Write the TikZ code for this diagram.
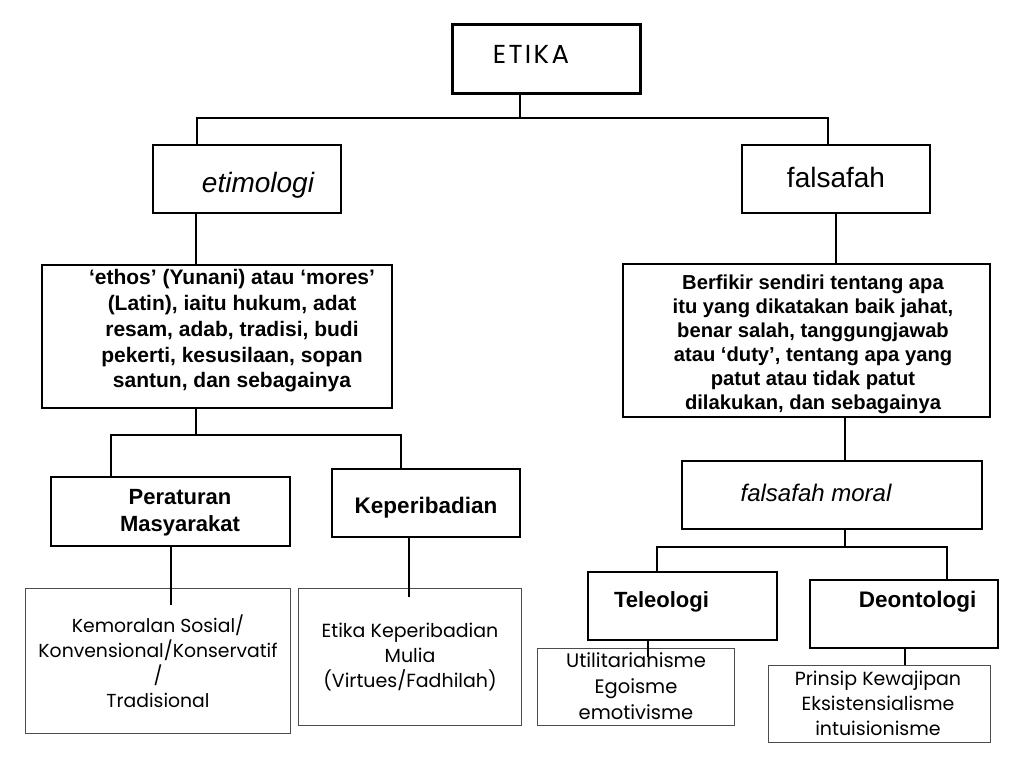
\documentclass[tikz,border=0pt]{standalone}
\usepackage{fontspec}
\setmainfont{Liberation Sans}
\newfontfamily\hand{Poppins}
\newfontfamily\handwide{Poppins}[LetterSpace=9]
\begin{document}
\begin{tikzpicture}[x=1pt,y=-1pt,
  box/.style={draw=black, line width=1.6pt, inner sep=0pt},
  thinbox/.style={draw=black!70, line width=0.9pt, inner sep=0pt},
  conn/.style={line width=1.8pt, line cap=rect},
  lbl/.style={inner sep=0pt, align=center}]
\useasboundingbox[fill=white] (0,0) rectangle (1024,768);

% boxes
\node[box, line width=3pt, minimum width=188pt, minimum height=68pt] (etika) at (546,59) {};
\node[box, minimum width=188pt, minimum height=68pt] (etim) at (247,179) {};
\node[box, minimum width=188pt, minimum height=68pt] (fals) at (836,179) {};
\node[box, minimum width=350pt, minimum height=143pt] (ltext) at (217,336.5) {};
\node[box, minimum width=367pt, minimum height=153pt] (rtext) at (806.5,340.5) {};
\node[box, minimum width=239pt, minimum height=69pt] (perat) at (170.5,511.5) {};
\node[box, minimum width=188pt, minimum height=68pt] (kep) at (426,503) {};
\node[box, minimum width=300pt, minimum height=68pt] (fmoral) at (832,495) {};
\node[box, minimum width=189pt, minimum height=68pt] (tele) at (682.5,606) {};
\node[box, minimum width=188pt, minimum height=68pt] (deon) at (904,614) {};
\node[thinbox, minimum width=265pt, minimum height=145pt] (kemo) at (157.5,660.5) {};
\node[thinbox, minimum width=223pt, minimum height=137pt] (etkep) at (409.5,656.5) {};
\node[thinbox, minimum width=197pt, minimum height=77pt] (util) at (635.5,686.5) {};
\node[thinbox, minimum width=222pt, minimum height=77pt] (prin) at (879,703.5) {};

% texts
\node[lbl, font=\handwide\fontsize{26}{30}\selectfont] (tEtika) at (531,54) {ETIKA};
\node[lbl, font=\itshape\fontsize{28}{32}\selectfont] (tEtim) at (258,185) {etimologi};
\node[lbl, font=\fontsize{28}{32}\selectfont] (tFals) at (836,177) {falsafah};
\node[lbl, font=\bfseries\fontsize{21}{25.75}\selectfont] (tL) at (232,331) {‘ethos’ (Yunani) atau ‘mores’\\(Latin), iaitu hukum, adat\\resam, adab, tradisi, budi\\pekerti, kesusilaan, sopan\\santun, dan sebagainya};
\node[lbl, font=\bfseries\fontsize{20.2}{24}\selectfont] (tR) at (813,344) {Berfikir sendiri tentang apa\\itu yang dikatakan baik jahat,\\benar salah, tanggungjawab\\atau ‘duty’, tentang apa yang\\patut atau tidak patut\\dilakukan, dan sebagainya};
\node[lbl, font=\bfseries\fontsize{22}{27}\selectfont] (tPerat) at (180,513) {Peraturan\\Masyarakat};
\node[lbl, font=\bfseries\fontsize{22.5}{27}\selectfont] (tKep) at (426,508) {Keperibadian};
\node[lbl, font=\itshape\fontsize{24}{28}\selectfont] (tFm) at (816,493) {falsafah moral};
\node[lbl, font=\bfseries\fontsize{22}{27}\selectfont] (tTele) at (661.5,602) {Teleologi};
\node[lbl, font=\bfseries\fontsize{22.5}{27}\selectfont] (tDeon) at (917.5,602) {Deontologi};
\node[lbl, font=\hand\fontsize{18.8}{25}\selectfont] (tKemo) at (158,661) {Kemoralan Sosial/\\Konvensional/Konservatif\\/\\Tradisional};
\node[lbl, font=\hand\fontsize{19}{25}\selectfont] (tEtkep) at (410,657) {Etika Keperibadian\\Mulia\\(Virtues/Fadhilah)};
\node[lbl, font=\hand\fontsize{19.5}{26}\selectfont] (tUtil) at (636,686) {Utilitarianisme\\Egoisme\\emotivisme};
\node[lbl, font=\hand\fontsize{19}{25}\selectfont] (tPrin) at (878,703) {Prinsip Kewajipan\\Eksistensialisme\\intuisionisme};

% connectors
\coordinate (j1) at (520,118);
\draw[conn] (etika.south -| j1) -- (j1);
\draw[conn] (etim.north -| 197,0) |- (j1) -| (fals.north -| 828,0);
\draw[conn] (etim.south -| 196,0) -- (ltext.north -| 196,0);
\coordinate (j2) at (196,435);
\draw[conn] (ltext.south -| j2) -- (j2);
\draw[conn] (perat.north -| 111,0) |- (j2) -| (kep.north -| 401,0);
\draw[conn] (perat.south -| 171,0) -- (kemo.north -| 171,0) -- ++(0,17);
\draw[conn] (kep.south -| 409,0) -- (etkep.north -| 409,0) -- ++(0,9);
\draw[conn] (fals.south -| 836,0) -- (rtext.north -| 836,0);
\draw[conn] (rtext.south -| 845,0) -- (fmoral.north -| 845,0);
\coordinate (j3) at (845,547);
\draw[conn] (fmoral.south -| j3) -- (j3);
\draw[conn] (tele.north -| 657,0) |- (j3) -| (deon.north -| 947,0);
\draw[conn] (tele.south -| 648,0) -- (util.north -| 648,0) -- ++(0,9);
\draw[conn] (deon.south -| 905,0) -- (prin.north -| 905,0);
\end{tikzpicture}
\end{document}
